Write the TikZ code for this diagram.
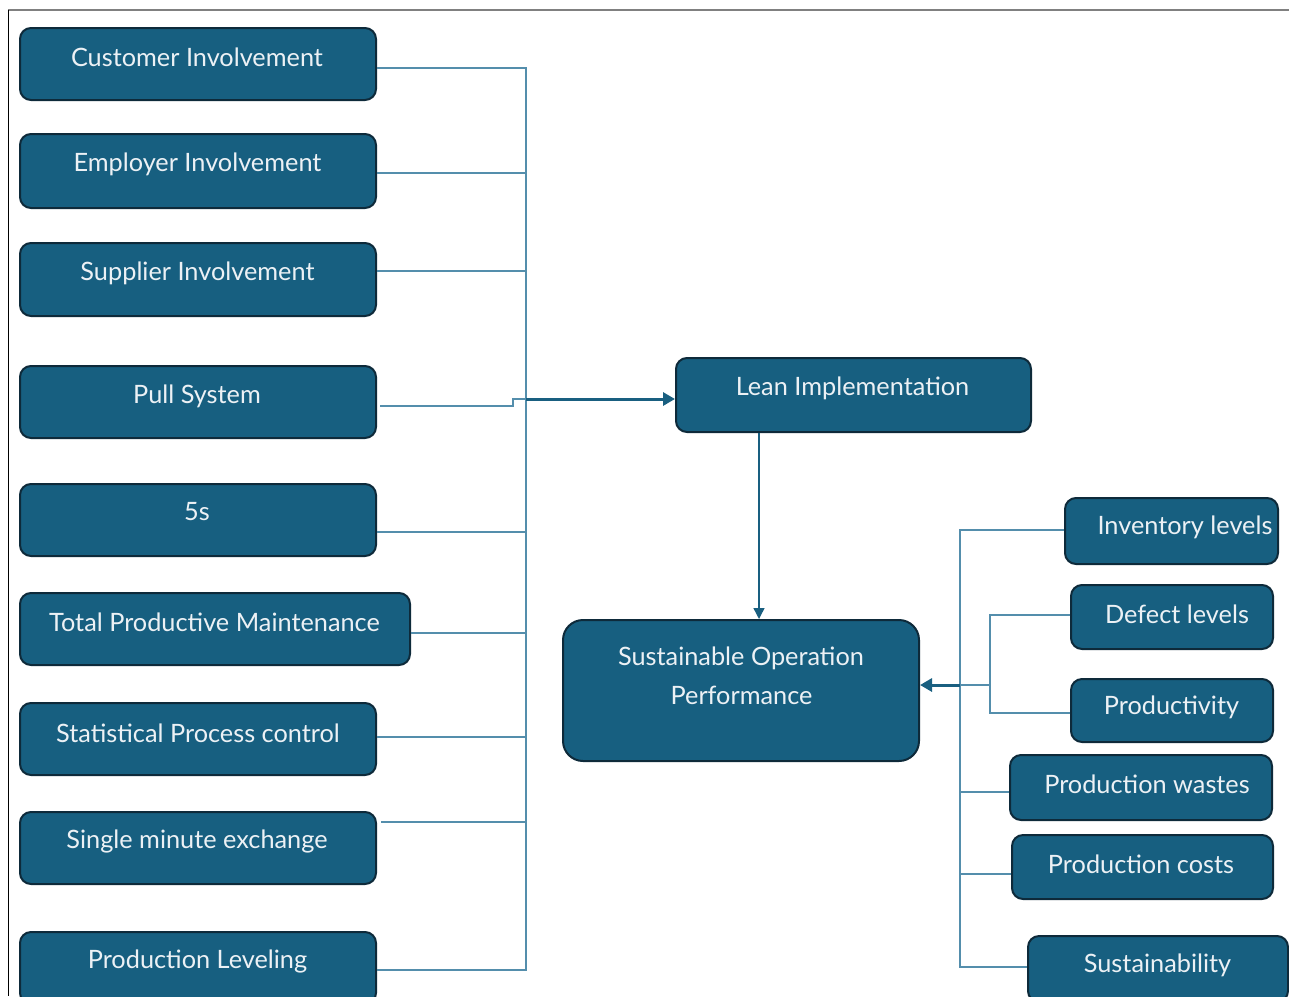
\documentclass[tikz,border=0pt]{standalone}
\usepackage{fontspec}
\setmainfont{Lato}
\usetikzlibrary{arrows.meta,calc}
\definecolor{boxfill}{RGB}{23,95,128}
\definecolor{boxdraw}{RGB}{14,42,58}
\definecolor{lineclr}{RGB}{84,142,172}
\definecolor{arrclr}{RGB}{25,95,128}
\definecolor{txtclr}{RGB}{236,241,245}
\tikzset{
  box/.style={draw=boxdraw, line width=2pt, fill=boxfill, rounded corners=11pt, inner sep=0pt},
  txt/.style={text=txtclr, font=\fontsize{25.3}{30}\selectfont, inner sep=0pt, anchor=center},
  conn/.style={draw=lineclr, line width=1.4pt},
  bigarr/.style={draw=arrclr, line width=3pt, -{Triangle[length=12pt,width=13pt]}},
  thinarr/.style={draw=arrclr, line width=1.4pt, -{Triangle[length=11pt,width=11pt]}},
}
\begin{document}
\begin{tikzpicture}[x=1pt,y=-1pt]
\useasboundingbox (0,0) rectangle (1289,996);
\draw[color={rgb,255:red,128;green,128;blue,128}, line width=1.6pt] (8,10) -- (1289,10);
\draw[black, line width=0.9pt] (8,10) -- (8,996);

% left boxes
\node[box, minimum width=356pt, minimum height=72pt] (cust) at (198,64) {};
\node[txt] (custT) at (197,57) {Customer Involvement};
\node[box, minimum width=356pt, minimum height=74pt] (empl) at (198,171) {};
\node[txt] (emplT) at (197.5,164) {Employer Involvement};
\node[box, minimum width=356pt, minimum height=73pt] (supp) at (198,279.5) {};
\node[txt] (suppT) at (197.5,273) {Supplier Involvement};
\node[box, minimum width=356pt, minimum height=72pt] (pull) at (198,402) {};
\node[txt] (pullT) at (197,396) {Pull System};
\node[box, minimum width=356pt, minimum height=72pt] (five) at (198,520) {};
\node[txt] (fiveT) at (197,512) {5s};
\node[box, minimum width=390pt, minimum height=72pt] (tpm) at (215,629) {};
\node[txt] (tpmT) at (214.5,622) {Total Productive Maintenance};
\node[box, minimum width=356pt, minimum height=72pt] (spc) at (198,739) {};
\node[txt] (spcT) at (198,733) {Statistical Process control};
\node[box, minimum width=356pt, minimum height=72pt] (sme) at (198,848) {};
\node[txt] (smeT) at (197,841) {Single minute exchange};
\node[box, minimum width=356pt, minimum height=72pt] (pl) at (198,968) {};
\node[txt] (plT) at (197.5,961) {Production Leveling};

% centre boxes
\node[box, minimum width=355pt, minimum height=74pt] (lean) at (853.5,395) {};
\node[txt] (leanT) at (852.5,388) {Lean Implementation};
\node[box, minimum width=356pt, minimum height=141pt, rounded corners=20pt] (sop) at (741,690.5) {};
\node[txt] (sopT1) at (741,658) {Sustainable Operation};
\node[txt] (sopT2) at (741.5,695) {Performance};

% right boxes
\node[box, minimum width=213pt, minimum height=66pt] (inv) at (1171.5,531) {};
\node[txt] (invT) at (1185,527) {Inventory levels};
\node[box, minimum width=202pt, minimum height=64pt] (def) at (1172,617) {};
\node[txt] (defT) at (1177,614) {Defect levels};
\node[box, minimum width=202pt, minimum height=63pt] (prod) at (1172,710.5) {};
\node[txt] (prodT) at (1171.5,707) {Productivity};
\node[box, minimum width=262pt, minimum height=65pt] (waste) at (1141,787.5) {};
\node[txt] (wasteT) at (1147,784) {Production wastes};
\node[box, minimum width=261pt, minimum height=64pt] (cost) at (1142.5,867) {};
\node[txt] (costT) at (1141,864) {Production costs};
\node[box, minimum width=260pt, minimum height=66pt] (sust) at (1158,969) {};
\node[txt] (sustT) at (1157.5,965) {Sustainability};

% left bus
\coordinate (busL) at (526,399);
\coordinate (step) at (513,399);
\draw[conn] (cust.east |- 0,68) -| (busL);
\draw[conn] (empl.east |- 0,173) -| (busL);
\draw[conn] (supp.east |- 0,271) -| (busL);
\draw[conn] ([xshift=3pt]pull.east |- 0,406) -| (step) -- (busL);
\draw[conn] (five.east |- 0,532) -| (busL);
\draw[conn] (tpm.east |- 0,633) -| (busL);
\draw[conn] (spc.east |- 0,737) -| (busL);
\draw[conn] ([xshift=4pt]sme.east |- 0,822) -| (busL);
\draw[conn] (pl.east |- 0,970) -| (busL);
\draw[bigarr] (busL) -- (lean.west |- busL);

% lean -> sop
\draw[thinarr] (lean.south -| 759,0) -- (sop.north -| 759,0);

% right bus
\coordinate (busR) at (960,685);
\coordinate (brk) at (990,685);
\draw[conn] (inv.west |- 0,530) -| (busR);
\draw[conn] (def.west |- 0,615) -| (brk);
\draw[conn] (prod.west |- 0,713) -| (brk);
\draw[conn] (brk) -- (busR);
\draw[conn] (waste.west |- 0,792) -| (busR);
\draw[conn] (cost.west |- 0,874) -| (busR);
\draw[conn] (sust.west |- 0,967) -| (busR);
\draw[bigarr] (busR) -- (sop.east |- busR);
\end{tikzpicture}
\end{document}
